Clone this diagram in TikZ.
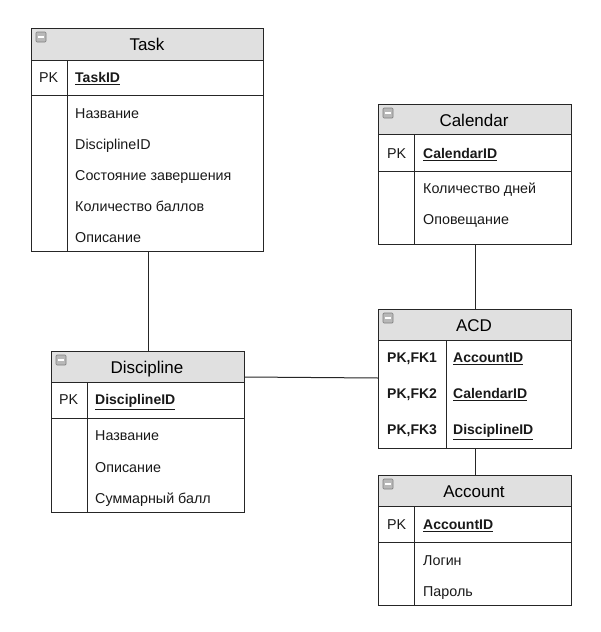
\documentclass[tikz,border=0pt]{standalone}
\usepackage{fontspec}
\setmainfont{Liberation Sans}
\begin{document}
\begin{tikzpicture}[x=1pt,y=-1pt,
  tbl/.style={draw=black!85, line width=1pt, rectangle, inner sep=0pt, anchor=north west},
  hdr/.style={fill=black!12, draw=black!85, line width=1pt},
  sep/.style={draw=black!85, line width=1pt},
  conn/.style={draw=black!85, line width=1pt},
  ttl/.style={font=\fontsize{17}{19}\selectfont, inner sep=0pt, text height=12pt, text depth=4pt, anchor=center, yshift=-2pt},
  fld/.style={font=\fontsize{14.3}{16}\selectfont, inner sep=0pt, text height=10pt, text depth=3pt, anchor=west, text=black!90, yshift=-2pt},
  key/.style={font=\fontsize{14}{16}\selectfont\bfseries, inner sep=0pt, text height=10pt, text depth=3pt, anchor=west, text=black!90, yshift=-2pt},
  icon/.style={fill=black!28, draw=black!50, line width=0.7pt, rounded corners=1pt}
]
\useasboundingbox (0,0) rectangle (601,632);
\fill[white] (0,0) rectangle (601,632);

% ---- Task
\node[tbl, minimum width=232, minimum height=223] (task) at (31,28) {};
\draw[hdr] (31,28) rectangle (263,60);
\draw[sep] (31,95) -- (263,95);
\draw[sep] (67,60) -- (67,251);
\draw[icon] (36,32) rectangle (46,42); \draw[white, line width=1.2pt] (38,37) -- (44,37);
\node[ttl] (taskT) at (147,44) {Task};
\node[fld] (taskPK) at (39,77) {PK};
\node[key] (taskK) at (75,77) {\underline{TaskID}};
\node[fld] (task1) at (75,113) {Название};
\node[fld] (task2) at (75,144) {DisciplineID};
\node[fld] (task3) at (75,175) {Состояние завершения};
\node[fld] (task4) at (75,206) {Количество баллов};
\node[fld] (task5) at (75,237) {Описание};
\draw[tbl] (31,28) rectangle (263,251);

% ---- Calendar
\node[tbl, minimum width=193, minimum height=140] (cal) at (378,104) {};
\draw[hdr] (378,104) rectangle (571,134);
\draw[sep] (378,171) -- (571,171);
\draw[sep] (414,134) -- (414,244);
\draw[icon] (383,108) rectangle (393,118); \draw[white, line width=1.2pt] (385,113) -- (391,113);
\node[ttl] (calT) at (474,120) {Calendar};
\node[fld] (calPK) at (387,153) {PK};
\node[key] (calK) at (423,153) {\underline{CalendarID}};
\node[fld] (cal1) at (423,188) {Количество дней};
\node[fld] (cal2) at (423,219) {Оповещание};
\draw[tbl] (378,104) rectangle (571,244);

% ---- Discipline
\node[tbl, minimum width=193, minimum height=161] (disc) at (51,351) {};
\draw[hdr] (51,351) rectangle (244,382);
\draw[sep] (51,418) -- (244,418);
\draw[sep] (87,382) -- (87,512);
\draw[icon] (56,355) rectangle (66,365); \draw[white, line width=1.2pt] (58,360) -- (64,360);
\node[ttl] (discT) at (147,367) {Discipline};
\node[fld] (discPK) at (59,399) {PK};
\node[key] (discK) at (95,399) {\underline{DisciplineID}};
\node[fld] (disc1) at (95,435) {Название};
\node[fld] (disc2) at (95,467) {Описание};
\node[fld] (disc3) at (95,498) {Суммарный балл};
\draw[tbl] (51,351) rectangle (244,512);

% ---- ACD
\node[tbl, minimum width=193, minimum height=139] (acd) at (378,309) {};
\draw[hdr] (378,309) rectangle (571,340);
\draw[sep] (446,340) -- (446,448);
\draw[icon] (383,313) rectangle (393,323); \draw[white, line width=1.2pt] (385,318) -- (391,318);
\node[ttl] (acdT) at (474,325) {ACD};
\node[key] (acdP1) at (387,357) {PK,FK1};
\node[key] (acdP2) at (387,393) {PK,FK2};
\node[key] (acdP3) at (387,429) {PK,FK3};
\node[key] (acdK1) at (453,357) {\underline{AccountID}};
\node[key] (acdK2) at (453,393) {\underline{CalendarID}};
\node[key] (acdK3) at (453,429) {\underline{DisciplineID}};
\draw[tbl] (378,309) rectangle (571,448);

% ---- Account
\node[tbl, minimum width=193, minimum height=130] (acc) at (378,475) {};
\draw[hdr] (378,475) rectangle (571,506);
\draw[sep] (378,542) -- (571,542);
\draw[sep] (414,506) -- (414,605);
\draw[icon] (383,479) rectangle (393,489); \draw[white, line width=1.2pt] (385,484) -- (391,484);
\node[ttl] (accT) at (474,491) {Account};
\node[fld] (accPK) at (387,524) {PK};
\node[key] (accK) at (423,524) {\underline{AccountID}};
\node[fld] (acc1) at (423,560) {Логин};
\node[fld] (acc2) at (423,591) {Пароль};
\draw[tbl] (378,475) rectangle (571,605);

% ---- connectors
\draw[conn] ([xshift=1pt]task.south) -- ([xshift=0.5pt]disc.north);
\draw[conn] (cal.south) -- (acd.north);
\draw[conn] (acd.south) -- (acc.north);
\draw[conn] ([yshift=-26pt]disc.north east) -- ([yshift=-69pt]acd.north west);
\end{tikzpicture}
\end{document}
